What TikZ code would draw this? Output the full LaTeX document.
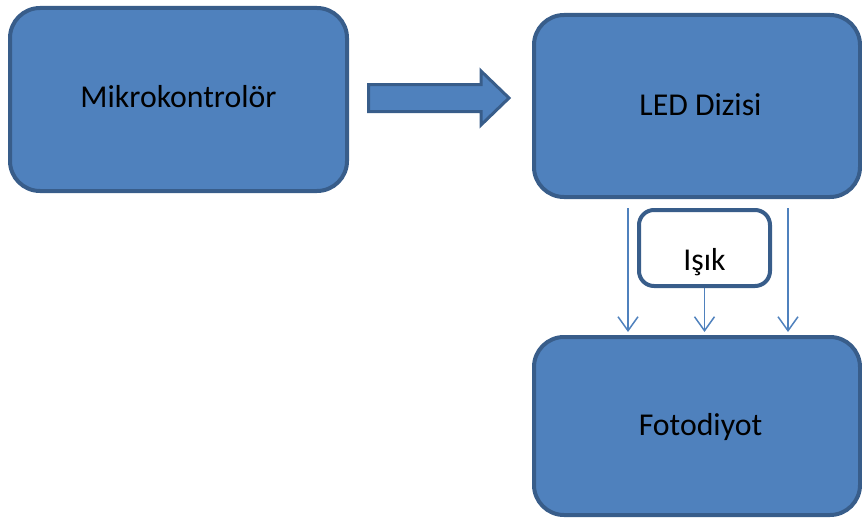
\documentclass[tikz,border=0pt]{standalone}
\usepackage{fontspec}
\setmainfont{Carlito}
\usetikzlibrary{arrows.meta,calc}
\definecolor{boxfill}{HTML}{4F81BD}
\definecolor{boxline}{HTML}{385D8A}
\newcommand{\liftby}[2]{\raisebox{#1}[\height][\depth]{#2}}
\begin{document}
\begin{tikzpicture}[x=1pt,y=-1pt,
  block/.style={draw=boxline, line width=4pt, fill=boxfill, rounded corners=30pt,
    inner sep=0pt, font=\fontsize{31.8}{38}\selectfont},
  tbox/.style={draw=boxline, line width=4pt, fill=white, rounded corners=15pt,
    inner sep=0pt, font=\fontsize{31.8}{38}\selectfont},
  ray/.style={draw=boxfill, line width=1.5pt, -{Straight Barb[length=14pt,width=20pt]}},
  barrow/.style={draw=boxline, line width=3pt, fill=boxfill, miter limit=10}]
\useasboundingbox (0,0) rectangle (862,519);
\clip (0,0) rectangle (862,519);
\node[block, minimum width=337pt, minimum height=183pt] (mikro) at (178.5,99.5) {\liftby{2.5pt}{Mikrokontrolör}};
\node[block, minimum width=326pt, minimum height=182pt] (led) at (697,106) {\hspace*{7pt}\liftby{1.5pt}{LED Dizisi}};
\node[block, minimum width=326pt, minimum height=178pt] (foto) at (697,426) {\hspace*{7pt}\liftby{-1.5pt}{Fotodiyot}};
\node[tbox, minimum width=131pt, minimum height=76pt] (isik) at (704.5,248) {\liftby{-14pt}{Işık}};
\draw[barrow] (368.5,84.5) -- (481,84.5) -- (481,71) -- (509,98) -- (481,125) -- (481,111.5) -- (368.5,111.5) -- cycle;
\coordinate (c1) at (628,0);
\coordinate (c2) at (788,0);
\draw[ray, shorten <=9pt, shorten >=3pt] (led.south -| c1) -- (foto.north -| c1);
\draw[ray, shorten <=9pt, shorten >=3pt] (led.south -| c2) -- (foto.north -| c2);
\draw[ray, shorten >=3pt] (isik.south) -- (isik.south |- foto.north);
\end{tikzpicture}
\end{document}
